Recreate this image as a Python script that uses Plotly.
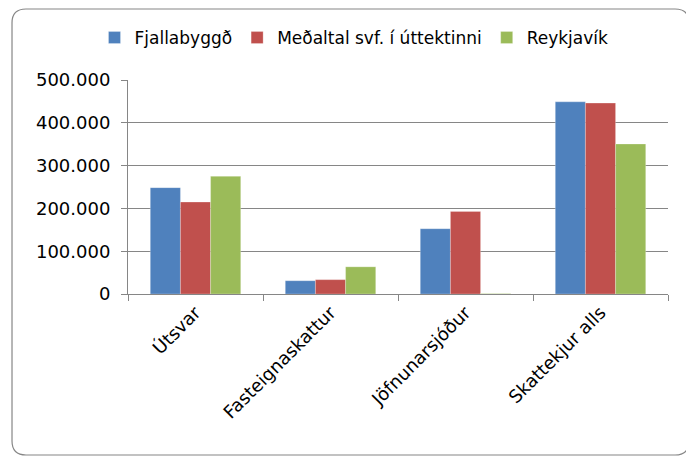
import plotly.graph_objects as go

categories = ["Útsvar", "Fasteignaskattur", "Jöfnunarsjóður", "Skattekjur alls"]
series_names = ["Fjallabyggð", "Meðaltal svf. í úttektinni", "Reykjavík"]
fjallabyggd = [248500, 31000, 152500, 449000]
medaltal = [214800, 33500, 193000, 446000]
reykjavik = [275000, 63500, 1000, 350500]
y_ticks = [0, 100000, 200000, 300000, 400000, 500000]

colors = ["#4F81BD", "#C0504D", "#9BBB59"]
font = "DejaVu Sans"

# page body has an 8px margin, so the figure starts at page pixel (8, 8)
OFF = 8
W, H = 694 - OFF, 460 - OFF
plot_l, plot_r, plot_t, plot_b = 128, 668, 80, 294   # page pixels
ml, mr = plot_l - OFF, W - (plot_r - OFF)
mt, mb = plot_t - OFF, H - (plot_b - OFF)
pw, ph = W - ml - mr, H - mt - mb


def px2paper(x, y):
    return (x - plot_l) / pw, (plot_b - y) / ph


fig = go.Figure()
for name, vals, c in zip(series_names, [fjallabyggd, medaltal, reykjavik], colors):
    fig.add_trace(go.Bar(x=categories, y=vals, name=name, marker_color=c,
                         marker_line=dict(color="rgba(255,255,255,0.5)", width=0.5)))

# rounded outer border (Excel chart area)
x0, y0, x1, y1, r = 12, 9, 689, 455, 14
def P(x, y):
    a, b = px2paper(x, y)
    return f"{a:.4f},{b:.4f}"
path = (f"M {P(x0 + r, y0)} L {P(x1 - r, y0)} Q {P(x1, y0)} {P(x1, y0 + r)} "
        f"L {P(x1, y1 - r)} Q {P(x1, y1)} {P(x1 - r, y1)} "
        f"L {P(x0 + r, y1)} Q {P(x0, y1)} {P(x0, y1 - r)} "
        f"L {P(x0, y0 + r)} Q {P(x0, y0)} {P(x0 + r, y0)} Z")
fig.add_shape(type="path", path=path, xref="paper", yref="paper",
              line=dict(color="#868686", width=1.2), layer="below")

lx, ly = px2paper(354, 38)
fig.update_layout(
    width=W, height=H,
    margin=dict(l=ml, r=mr, t=mt, b=mb),
    paper_bgcolor="white", plot_bgcolor="white",
    font=dict(family=font, size=18, color="black"),
    separators=",.",
    barmode="group", bargap=0.33, bargroupgap=0,
    showlegend=True,
    legend=dict(orientation="h", x=lx, xanchor="center", y=ly,
                yanchor="middle", font=dict(size=17), traceorder="normal",
                itemwidth=30),
    xaxis=dict(type="category", showline=True, linecolor="#868686", linewidth=1,
               ticks="outside", tickson="boundaries", ticklen=6, tickcolor="#868686",
               tickangle=-45, showgrid=False, automargin=False),
    yaxis=dict(range=[0, 500000], tickvals=y_ticks, tickformat=",d",
               showline=True, linecolor="#868686", linewidth=1,
               ticks="outside", ticklen=6, tickcolor="#868686",
               ticklabelstandoff=7,
               showgrid=True, gridcolor="#868686", gridwidth=1, zeroline=False,
               automargin=False),
)

fig.write_html("out.html")
